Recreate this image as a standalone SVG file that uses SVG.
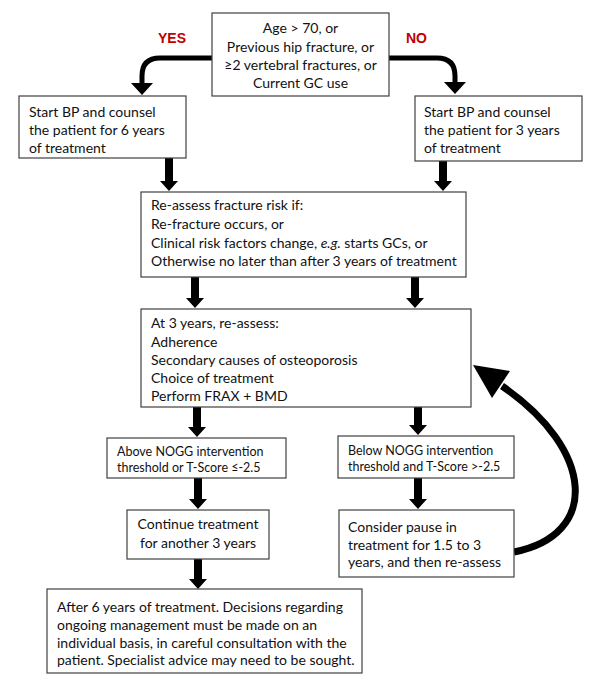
<svg xmlns="http://www.w3.org/2000/svg" width="602" height="683" viewBox="0 0 602 683">
<defs>
<style>
.box{fill:#fff;stroke:#404040;stroke-width:1.2}
text{font-family:Lato,"Open Sans",sans-serif;font-size:14px;fill:#111}
.sm{font-size:12.5px}
.c{text-anchor:middle}
.lbl{font-family:"Liberation Sans",Arial,sans-serif;font-weight:bold;font-size:14px;fill:#c00000}
.ln{fill:none;stroke:#000;stroke-width:5}
.ar{fill:#000}
</style>
</defs>
<rect width="602" height="683" fill="#fff"/>
<g id="connectors">
<path class="ln" d="M212 58 H160 Q142 58 142 76 V85"/>
<polygon class="ar" points="131,83 153,83 142,95"/>
<path class="ln" d="M389 58 H437 Q455 58 455 76 V84"/>
<polygon class="ar" points="444,82 466,82 455,94"/>
<polygon class="ar" points="165,158 173,158 173,181 178,181 169,191 160,181 165,181"/>
<polygon class="ar" points="439,161 447,161 447,181 452,181 443,191 434,181 439,181"/>
<polygon class="ar" points="191,277 199,277 199,298 204,298 195,308 186,298 191,298"/>
<polygon class="ar" points="411,277 419,277 419,298 424,298 415,308 406,298 411,298"/>
<polygon class="ar" points="193,407 201,407 201,427 206,427 197,437 188,427 193,427"/>
<polygon class="ar" points="414,407 422,407 422,425 427,425 418,435 409,425 414,425"/>
<polygon class="ar" points="194,478 202,478 202,499 207,499 198,509 189,499 194,499"/>
<polygon class="ar" points="414,478 422,478 422,499 427,499 418,509 409,499 414,499"/>
<polygon class="ar" points="194,559 202,559 202,579 207,579 198,589 189,579 194,579"/>
<path class="ln" style="stroke-width:7" d="M514 552 C600 535 595 450 502 386"/>
<polygon class="ar" points="473,365 510,371 492,398"/>
</g>
<text class="lbl" x="158" y="43">YES</text>
<text class="lbl" x="406" y="43">NO</text>
<g id="n-top">
<rect class="box" x="212" y="13" width="177" height="83"/>
<text class="c" x="300.5" y="33">Age &gt; 70, or</text>
<text class="c" x="300.5" y="51.5">Previous hip fracture, or</text>
<text class="c" x="300.5" y="70">≥2 vertebral fractures, or</text>
<text class="c" x="300.5" y="88">Current GC use</text>
</g>
<g id="n-yes">
<rect class="box" x="19" y="96" width="167" height="62"/>
<text x="29" y="117">Start BP and counsel</text>
<text x="29" y="135">the patient for 6 years</text>
<text x="29" y="153">of treatment</text>
</g>
<g id="n-no">
<rect class="box" x="415" y="96" width="167" height="65"/>
<text x="424" y="117">Start BP and counsel</text>
<text x="424" y="135">the patient for 3 years</text>
<text x="424" y="153">of treatment</text>
</g>
<g id="n-reassess">
<rect class="box" x="141" y="192" width="325" height="85"/>
<text x="151" y="210">Re-assess fracture risk if:</text>
<text x="151" y="229">Re-fracture occurs, or</text>
<text x="151" y="248">Clinical risk factors change, <tspan font-style="italic">e.g.</tspan> starts GCs, or</text>
<text x="151" y="266">Otherwise no later than after 3 years of treatment</text>
</g>
<g id="n-3years">
<rect class="box" x="141" y="309" width="330" height="98"/>
<text x="151" y="328">At 3 years, re-assess:</text>
<text x="151" y="347">Adherence</text>
<text x="151" y="365">Secondary causes of osteoporosis</text>
<text x="151" y="383">Choice of treatment</text>
<text x="151" y="401">Perform FRAX + BMD</text>
</g>
<g id="n-above">
<rect class="box" x="107" y="438" width="179" height="40"/>
<text class="sm" x="117" y="456">Above NOGG intervention</text>
<text class="sm" x="117" y="472">threshold or T-Score ≤-2.5</text>
</g>
<g id="n-below">
<rect class="box" x="338" y="436" width="176" height="42"/>
<text class="sm" x="348" y="455">Below NOGG intervention</text>
<text class="sm" x="348" y="471">threshold and T-Score &gt;-2.5</text>
</g>
<g id="n-continue">
<rect class="box" x="127" y="510" width="142" height="49"/>
<text class="c" x="198" y="529">Continue treatment</text>
<text class="c" x="198" y="548">for another 3 years</text>
</g>
<g id="n-pause">
<rect class="box" x="339" y="510" width="175" height="67"/>
<text x="348" y="532">Consider pause in</text>
<text x="348" y="550">treatment for 1.5 to 3</text>
<text x="348" y="567">years, and then re-assess</text>
</g>
<g id="n-after6">
<rect class="box" x="47" y="589" width="315" height="84"/>
<text x="57" y="612">After 6 years of treatment. Decisions regarding</text>
<text x="57" y="630">ongoing management must be made on an</text>
<text x="57" y="648">individual basis, in careful consultation with the</text>
<text x="57" y="665">patient. Specialist advice may need to be sought.</text>
</g>
</svg>
